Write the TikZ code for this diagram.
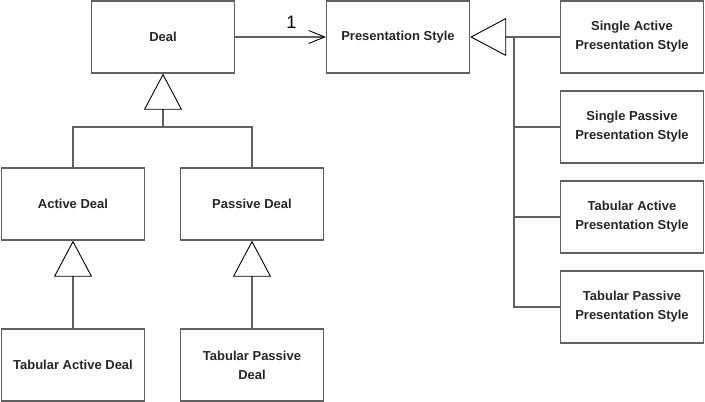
\documentclass[tikz,border=0pt]{standalone}
\usepackage{fontspec}
\setmainfont{Liberation Sans}
\usetikzlibrary{arrows.meta}

\begin{document}
\begin{tikzpicture}[x=1pt,y=-1pt,
  classbox/.style={draw=black!62,line width=1.3pt,minimum width=143pt,minimum height=72pt,
    align=center,text=black!85,font=\bfseries\fontsize{13}{19}\selectfont},
  link/.style={draw=black!62,line width=1.3pt},
  inherit/.style={link,-{Triangle[open,length=36pt,width=38pt,color=black,line width=0.9pt]}},
  assoc/.style={link,-{Straight Barb[length=16pt,width=13pt,color=black,line width=0.9pt]}}]
  \useasboundingbox (0,0) rectangle (705,402);

  % deal hierarchy
  \node[classbox] (deal) at (163,37) {Deal};
  \node[classbox] (active) at (73,204) {Active Deal};
  \node[classbox] (passive) at (252,204) {Passive Deal};
  \node[classbox] (tabactive) at (73,365) {Tabular Active Deal};
  \node[classbox] (tabpassive) at (252,365) {Tabular Passive\\Deal};

  % presentation styles
  \node[classbox] (style) at (398,37) {Presentation Style};
  \node[classbox] (singleact) at (632,37) {Single Active\\Presentation Style};
  \node[classbox] (singlepass) at (632,127) {Single Passive\\Presentation Style};
  \node[classbox] (tabact) at (632,217) {Tabular Active\\Presentation Style};
  \node[classbox] (tabpass) at (632,307) {Tabular Passive\\Presentation Style};

  \coordinate (dealjoin) at (163,127);
  \coordinate (trunk) at (514,37);

  \draw[link] (active.north) |- (dealjoin) -| (passive.north);
  \draw[inherit] (dealjoin) -- (deal.south);
  \draw[inherit] (tabactive.north) -- (active.south);
  \draw[inherit] (tabpassive.north) -- (passive.south);

  \draw[assoc] (deal.east) -- node[pos=0.62,above=5pt,font=\fontsize{18}{18}\selectfont] {1} (style.west);

  \draw[inherit] (singleact.west) -- (style.east);
  \draw[link] (tabpass.west) -| (trunk);
  \draw[link] (singlepass.west) -- (singlepass.west -| trunk);
  \draw[link] (tabact.west) -- (tabact.west -| trunk);
\end{tikzpicture}
\end{document}
